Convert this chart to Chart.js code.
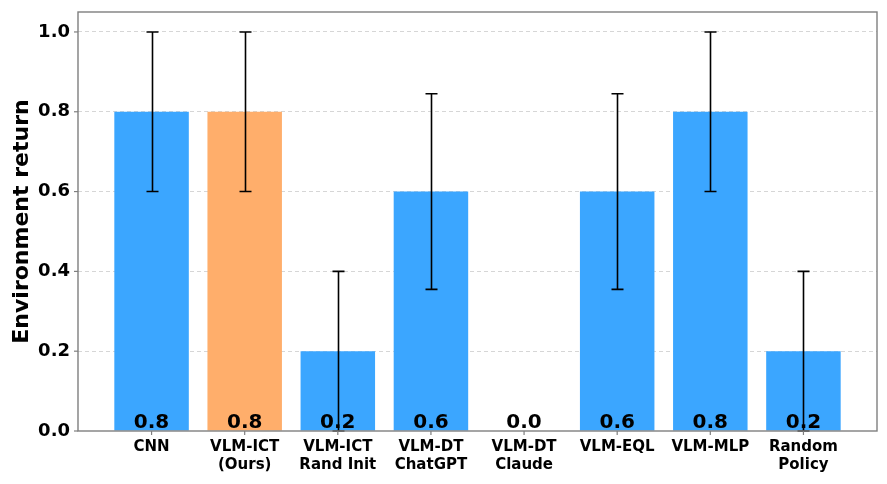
<!DOCTYPE html>
<html>
<head>
<meta charset="utf-8">
<script src="https://cdn.jsdelivr.net/npm/chart.js@4.4.1/dist/chart.umd.min.js"></script>
<style>
  html, body { margin: 0; padding: 0; background: #fff; }
  #wrap { width: 887px; height: 484px; }
</style>
</head>
<body>
<div id="wrap"><canvas id="chart"></canvas></div>
<script>
const categories = [
  ["CNN"], ["VLM-ICT", "(Ours)"], ["VLM-ICT", "Rand Init"], ["VLM-DT", "ChatGPT"],
  ["VLM-DT", "Claude"], ["VLM-EQL"], ["VLM-MLP"], ["Random", "Policy"]
]
const returns = [0.8, 0.8, 0.2, 0.6, 0.0, 0.6, 0.8, 0.2]
const errLow = [0.6, 0.6, 0.0, 0.355, 0.0, 0.355, 0.6, 0.0]
const errHigh = [1.0, 1.0, 0.4, 0.845, 0.0, 0.845, 1.0, 0.4]
const yTicks = [0.0, 0.2, 0.4, 0.6, 0.8, 1.0]

const BLUE = "#3ba6ff"
const ORANGE = "#ffae6b"
const FONT = "'DejaVu Sans', sans-serif"

const framePlugin = {
  id: "frame",
  afterDatasetsDraw(chart) {
    const { ctx, chartArea: a, scales } = chart
    const x = scales.x, y = scales.y
    ctx.save()
    // value labels at bar bottoms
    ctx.font = "bold 20px " + FONT
    ctx.fillStyle = "#000"
    ctx.textAlign = "center"
    ctx.textBaseline = "alphabetic"
    returns.forEach((v, i) => {
      ctx.fillText(v.toFixed(1), x.getPixelForValue(i), y.getPixelForValue(0) - 3)
    })
    // error bars
    ctx.strokeStyle = "#000"
    ctx.lineWidth = 1.6
    errLow.forEach((lo, i) => {
      const hi = errHigh[i]
      if (hi === lo) return
      const px = Math.round(x.getPixelForValue(i)) + 0.5
      const y1 = y.getPixelForValue(lo), y2 = y.getPixelForValue(hi)
      ctx.beginPath()
      ctx.moveTo(px, y1); ctx.lineTo(px, y2)
      ctx.moveTo(px - 6, y1); ctx.lineTo(px + 6, y1)
      ctx.moveTo(px - 6, y2); ctx.lineTo(px + 6, y2)
      ctx.stroke()
    })
    // frame
    ctx.strokeStyle = "#7f7f7f"
    ctx.lineWidth = 1.4
    ctx.strokeRect(a.left, a.top, a.right - a.left, a.bottom - a.top)
    // tick marks
    ctx.lineWidth = 1.2
    categories.forEach((c, i) => {
      const px = x.getPixelForValue(i)
      ctx.beginPath(); ctx.moveTo(px, a.bottom); ctx.lineTo(px, a.bottom + 4); ctx.stroke()
    })
    yTicks.forEach(t => {
      const py = y.getPixelForValue(t)
      ctx.beginPath(); ctx.moveTo(a.left - 4, py); ctx.lineTo(a.left, py); ctx.stroke()
    })
    ctx.restore()
  }
}

new Chart(document.getElementById("chart"), {
  type: "bar",
  data: {
    datasets: [{
      data: returns.map((v, i) => ({ x: i, y: v })),
      backgroundColor: returns.map((v, i) => i === 1 ? ORANGE : BLUE),
      barPercentage: 0.8,
      categoryPercentage: 1.0
    }]
  },
  options: {
    responsive: true,
    maintainAspectRatio: false,
    animation: false,
    layout: { padding: { top: 12, right: 10, left: 9, bottom: 0 } },
    plugins: { legend: { display: false }, tooltip: { enabled: false } },
    scales: {
      x: {
        type: "linear",
        offset: false,
        min: -0.79,
        max: 7.79,
        afterBuildTicks: s => { s.ticks = categories.map((c, i) => ({ value: i })) },
        afterFit: s => { s.height = 53; s.paddingLeft = 0; s.paddingRight = 0 },
        grid: { display: false, drawTicks: false },
        border: { display: false },
        ticks: {
          autoSkip: false,
          maxRotation: 0,
          padding: 7,
          color: "#000",
          font: { family: FONT, size: 15, weight: "bold", lineHeight: 1.2 },
          callback: v => categories[v]
        }
      },
      y: {
        min: 0,
        max: 1.05,
        afterBuildTicks: s => { s.ticks = yTicks.map(v => ({ value: v })) },
        afterFit: s => { s.width = 69; s.paddingTop = 0; s.paddingBottom = 0 },
        grid: {
          color: c => c.tick && c.tick.value === 0 ? "rgba(0,0,0,0)" : "#cccccc",
          lineWidth: 0.8,
          drawTicks: false
        },
        border: { display: false, dash: [4, 3] },
        ticks: {
          padding: 8,
          color: "#000",
          font: { family: FONT, size: 18, weight: "bold" },
          callback: v => Number(v).toFixed(1)
        },
        title: {
          display: true,
          text: "Environment return",
          color: "#000",
          padding: { top: 0, bottom: 4 },
          font: { family: FONT, size: 22, weight: "bold" }
        }
      }
    }
  },
  plugins: [framePlugin]
})
</script>
</body>
</html>
